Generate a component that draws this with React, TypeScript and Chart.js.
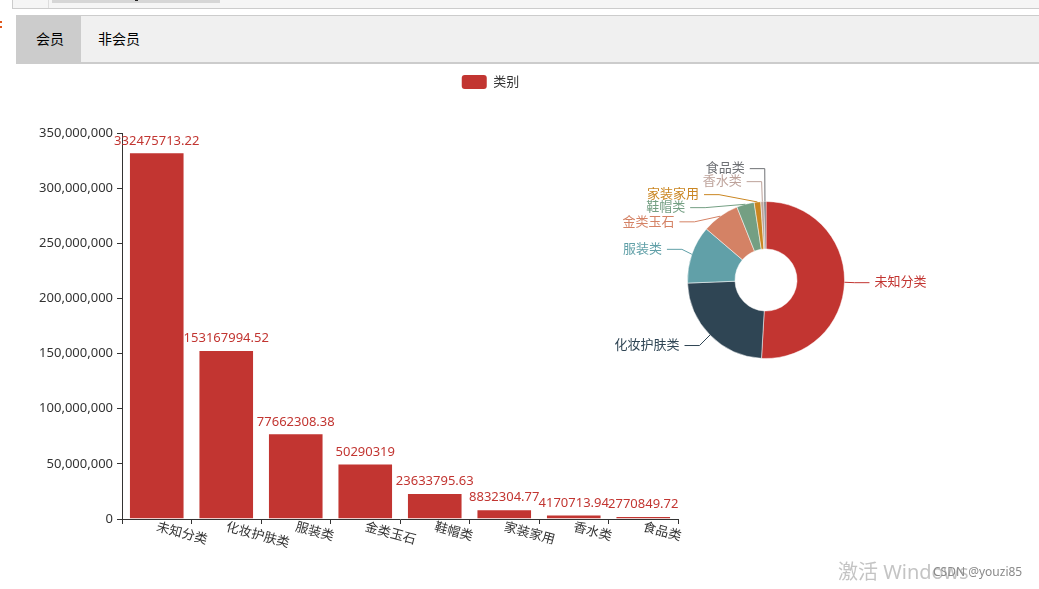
import React, { useEffect, useRef } from "react";
import { Chart, registerables } from "chart.js";

Chart.register(...registerables);

// ---------- data ----------
const categories = ["未知分类", "化妆护肤类", "服装类", "金类玉石", "鞋帽类", "家装家用", "香水类", "食品类"];
const salesValues = [332475713.22, 153167994.52, 77662308.38, 50290319, 23633795.63, 8832304.77, 4170713.94, 2770849.72];
const yAxisMax = 350000000;
const yAxisStep = 50000000;
const seriesName = "类别";
const tabLabels = ["会员", "非会员"];
const barColor = "#c23531";
const pieColors = ["#c23531", "#2f4554", "#61a0a8", "#d48265", "#749f83", "#ca8622", "#bda29a", "#6e7074"];

const FONT = "'Noto Sans', 'Noto Sans CJK SC', sans-serif";

// value labels above bars
const barValueLabels = {
  id: "barValueLabels",
  afterDatasetsDraw(chart: any) {
    const ctx = chart.ctx;
    const meta = chart.getDatasetMeta(0);
    ctx.save();
    ctx.font = `13px ${FONT}`;
    ctx.fillStyle = barColor;
    ctx.textAlign = "center";
    ctx.textBaseline = "bottom";
    meta.data.forEach((el: any, i: number) => {
      const p = el.getProps(["x", "y"], true);
      ctx.fillText(String(salesValues[i]), p.x, p.y - 5);
    });
    ctx.restore();
  },
};

// rotated category labels (ECharts style: start at category centre, tilted down-right)
const rotatedCategoryLabels = {
  id: "rotatedCategoryLabels",
  afterDraw(chart: any) {
    const ctx = chart.ctx;
    const xs = chart.scales.x;
    const bottom = chart.chartArea.bottom;
    ctx.save();
    ctx.font = `13px ${FONT}`;
    ctx.fillStyle = "#333";
    categories.forEach((c, i) => {
      const x = xs.getPixelForValue(i);
      ctx.save();
      ctx.translate(x, bottom + 8);
      ctx.rotate((15 * Math.PI) / 180);
      ctx.textAlign = "left";
      ctx.textBaseline = "middle";
      ctx.fillText(c, 0, 0);
      ctx.restore();
    });
    ctx.restore();
  },
};

// ECharts v4-like outside labels with leader lines
function adjustSingleSide(list: any[], cx: number, cy: number, r: number, dir: number, viewTop: number, viewHeight: number) {
  if (!list.length) return;
  list.sort((a, b) => a.y - b.y);
  const shiftUp = (end: number, delta: number) => {
    for (let j = end; j >= 0; j--) {
      if (list[j].y - delta < viewTop) break;
      list[j].y -= delta;
      if (j > 0 && list[j].y > list[j - 1].y + list[j - 1].height) break;
    }
  };
  const shiftDown = (start: number, end: number, delta: number) => {
    for (let j = start; j < end; j++) {
      if (list[j].y + delta > viewTop + viewHeight) break;
      list[j].y += delta;
      if (j > start && j + 1 < end && list[j + 1].y > list[j].y + list[j].height) {
        shiftUp(j, delta / 2);
        return;
      }
    }
    shiftUp(end - 1, delta / 2);
  };
  const changeX = (items: any[], isDown: boolean) => {
    let last = isDown ? Number.MAX_VALUE : 0;
    for (const it of items) {
      const dy = Math.abs(it.y - cy);
      const R = r + it.len + it.len2;
      let dx = dy < r + it.len ? Math.sqrt(R * R - dy * dy) : Math.abs(it.x - cx);
      if (isDown && dx >= last) dx = last - 10;
      if (!isDown && dx <= last) dx = last + 10;
      it.x = cx + dx * dir;
      last = dx;
    }
  };
  let lastY = 0;
  const n = list.length;
  for (let i = 0; i < n; i++) {
    const delta = list[i].y - lastY;
    if (delta < 0) shiftDown(i, n, -delta);
    lastY = list[i].y + list[i].height;
  }
  if (viewHeight - lastY < 0) shiftUp(n - 1, lastY - viewHeight);
  const up: any[] = [];
  const down: any[] = [];
  for (const it of list) (it.y >= cy ? down : up).push(it);
  changeX(up, false);
  changeX(down, true);
}

const pieOuterLabels = {
  id: "pieOuterLabels",
  afterDraw(chart: any) {
    const ctx = chart.ctx;
    const meta = chart.getDatasetMeta(0);
    const len = 15;
    const len2 = 15;
    const labelDistance = 5;
    const textH = 13;
    let cx = 0, cy = 0, rr = 0;
    const items = meta.data.map((arc: any, i: number) => {
      const p = arc.getProps(["x", "y", "startAngle", "endAngle", "outerRadius"], true);
      cx = p.x; cy = p.y; rr = p.outerRadius;
      const mid = (p.startAngle + p.endAngle) / 2;
      const dx = Math.cos(mid);
      const dy = Math.sin(mid);
      const x1 = p.x + dx * p.outerRadius;
      const y1 = p.y + dy * p.outerRadius;
      const x2 = x1 + dx * len;
      const y2 = y1 + dy * len;
      const dir = dx < 0 ? -1 : 1;
      const x3 = x2 + dir * len2;
      return { i, dir, x1, y1, x: x3 + dir * labelDistance, y: y2, dist: x2 - x3, len, len2, height: textH };
    });
    const left = items.filter((it: any) => it.dir < 0);
    const right = items.filter((it: any) => it.dir > 0);
    adjustSingleSide(right, cx, cy, rr, 1, 0, chart.height);
    adjustSingleSide(left, cx, cy, rr, -1, 0, chart.height);

    ctx.save();
    ctx.font = `13px ${FONT}`;
    ctx.lineWidth = 1;
    items.forEach((it: any) => {
      const color = pieColors[it.i];
      const x3 = it.x - it.dir * labelDistance;
      const x2 = x3 + it.dist;
      ctx.strokeStyle = color;
      ctx.beginPath();
      ctx.moveTo(it.x1, it.y1);
      ctx.lineTo(x2, it.y);
      ctx.lineTo(x3, it.y);
      ctx.stroke();
      ctx.fillStyle = color;
      ctx.textAlign = it.dir < 0 ? "right" : "left";
      ctx.textBaseline = "middle";
      ctx.fillText(categories[it.i], it.x, it.y);
    });
    ctx.restore();
  },
};

export default function App() {
  const barRef = useRef<HTMLCanvasElement | null>(null);
  const pieRef = useRef<HTMLCanvasElement | null>(null);

  useEffect(() => {
    const bar = new Chart(barRef.current as HTMLCanvasElement, {
      type: "bar",
      data: {
        labels: categories,
        datasets: [
          {
            label: seriesName,
            data: salesValues,
            backgroundColor: barColor,
            borderColor: "rgba(255,255,255,0.45)",
            borderWidth: 1,
            categoryPercentage: 0.8,
            barPercentage: 1,
          },
        ],
      },
      options: {
        responsive: false,
        animation: false,
        layout: { padding: 0 },
        plugins: {
          tooltip: { enabled: false },
          legend: {
            display: true,
            position: "top",
            align: "center",
            labels: {
              boxWidth: 25,
              boxHeight: 14,
              useBorderRadius: true,
              borderRadius: 3,
              padding: 10,
              color: "#333",
              font: { size: 13, family: FONT },
              generateLabels: (chart: any) =>
                Chart.defaults.plugins.legend.labels.generateLabels(chart).map((l: any) => ({ ...l, lineWidth: 0 })),
            },
          },
        },
        scales: {
          x: {
            type: "category",
            position: "bottom",
            offset: true,
            grid: { display: true, drawOnChartArea: false, drawTicks: true, tickLength: 5, color: "#333", offset: true },
            border: { display: true, color: "#333" },
            ticks: { display: false },
            afterFit: (s: any) => {
              s.height = 70;
            },
          },
          y: {
            type: "linear",
            position: "left",
            min: 0,
            max: yAxisMax,
            grid: { display: true, drawOnChartArea: false, drawTicks: true, tickLength: 5, color: "#333" },
            border: { display: true, color: "#333" },
            ticks: {
              stepSize: yAxisStep,
              color: "#333",
              padding: 4,
              font: { size: 13, family: FONT },
              callback: (v: any) => Number(v).toLocaleString("en-US"),
            },
            afterFit: (s: any) => {
              s.width = 122;
            },
          },
          xTop: {
            type: "linear",
            axis: "x",
            position: "top",
            display: true,
            ticks: { display: false },
            grid: { display: false },
            border: { display: false },
            afterFit: (s: any) => {
              s.height = 34;
            },
          },
          yRight: {
            type: "linear",
            axis: "y",
            position: "right",
            display: true,
            ticks: { display: false },
            grid: { display: false },
            border: { display: false },
            afterFit: (s: any) => {
              s.width = 303;
            },
          },
        },
      } as any,
      plugins: [barValueLabels, rotatedCategoryLabels],
    });

    const pie = new Chart(pieRef.current as HTMLCanvasElement, {
      type: "doughnut",
      data: {
        labels: categories,
        datasets: [
          {
            data: salesValues,
            backgroundColor: pieColors,
            borderColor: "rgba(255,255,255,0.5)",
            borderWidth: 1,
          },
        ],
      },
      options: {
        responsive: false,
        animation: false,
        radius: 78.5,
        cutout: "39.5%",
        layout: { padding: { left: 0, right: 8, top: 0, bottom: 0 } },
        plugins: { legend: { display: false }, tooltip: { enabled: false } },
      } as any,
      plugins: [pieOuterLabels],
    });

    return () => {
      bar.destroy();
      pie.destroy();
    };
  }, []);

  return (
    <div
      style={{
        position: "absolute",
        left: 0,
        top: 0,
        width: 1039,
        height: 589,
        overflow: "hidden",
        background: "#fff",
        fontFamily: FONT,
      }}
    >
      {/* top strip remnant */}
      <div
        style={{
          position: "absolute",
          left: 12,
          top: 0,
          width: 1040,
          height: 8,
          background: "#f5f5f5",
          borderLeft: "1px solid #ccc",
          borderBottom: "1px solid #ccc",
        }}
      />
      <div style={{ position: "absolute", left: 48, top: 0, width: 1, height: 8, background: "#ddd" }} />
      <div style={{ position: "absolute", left: 52, top: 0, width: 168, height: 3, background: "#d6d6d6" }} />
      <div style={{ position: "absolute", left: 135, top: 0, width: 3, height: 1, background: "#222" }} />
      <div style={{ position: "absolute", left: 0, top: 21, width: 2, height: 2, background: "#e0561b" }} />
      <div style={{ position: "absolute", left: 0, top: 26, width: 2, height: 2, background: "#e0561b" }} />

      {/* tab bar */}
      <div
        style={{
          position: "absolute",
          left: 16,
          top: 15,
          width: 1040,
          height: 46,
          background: "#f0f0f0",
          borderTop: "1px solid #ccc",
          borderLeft: "1px solid #ccc",
          borderBottom: "2px solid #ccc",
        }}
      >
        <div
          style={{
            position: "absolute",
            left: 0,
            top: 0,
            width: 64,
            height: 46,
            background: "#ccc",
          }}
        />
        <div style={{ position: "absolute", left: 19, top: 14, fontSize: 14, lineHeight: "18px", color: "#000" }}>
          {tabLabels[0]}
        </div>
        <div style={{ position: "absolute", left: 81, top: 14, fontSize: 14, lineHeight: "18px", color: "#000" }}>
          {tabLabels[1]}
        </div>
      </div>

      <canvas
        ref={barRef}
        width={981}
        height={524}
        style={{ position: "absolute", left: 0, top: 65, width: 981, height: 524 }}
      />
      <canvas
        ref={pieRef}
        width={340}
        height={300}
        style={{ position: "absolute", left: 600, top: 130, width: 340, height: 300 }}
      />

      {/* watermark */}
      <div
        style={{
          position: "absolute",
          left: 838,
          top: 559,
          fontSize: 20,
          lineHeight: "26px",
          color: "#c4c4c4",
          whiteSpace: "nowrap",
        }}
      >
        激活 Windows
      </div>
      <div
        style={{
          position: "absolute",
          left: 933,
          top: 563,
          fontSize: 12,
          lineHeight: "18px",
          color: "#8a8a8a",
          whiteSpace: "nowrap",
        }}
      >
        CSDN @youzi85
      </div>
    </div>
  );
}
